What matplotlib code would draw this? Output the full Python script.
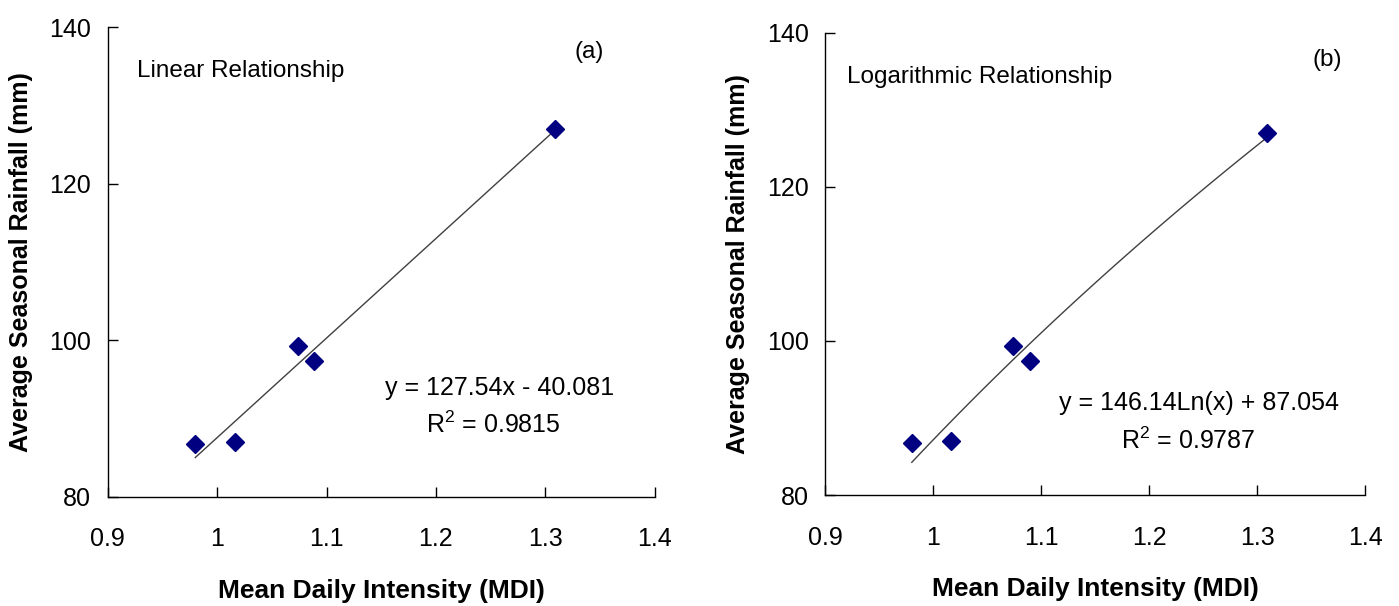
import numpy as np
import matplotlib
matplotlib.use('Agg')
import matplotlib.pyplot as plt

# data
mdi = [0.980, 1.016, 1.074, 1.089, 1.309]
rain = [86.7, 87.0, 99.3, 97.4, 127.0]

xticks = [0.9, 1.0, 1.1, 1.2, 1.3, 1.4]
xticklabels = ['0.9', '1', '1.1', '1.2', '1.3', '1.4']
yticks = [80, 100, 120, 140]

lin_eq = 'y = 127.54x - 40.081'
lin_r2 = 'R$^2$ = 0.9815'
log_eq = 'y = 146.14Ln(x) + 87.054'
log_r2 = 'R$^2$ = 0.9787'

plt.rcParams['font.family'] = ['Liberation Sans', 'DejaVu Sans']
plt.rcParams['mathtext.fontset'] = 'custom'
plt.rcParams['mathtext.rm'] = 'Liberation Sans'

fig = plt.figure(figsize=(13.99, 6.06), dpi=100)
ax1 = fig.add_axes([0.077, 0.180, 0.391, 0.775])
ax2 = fig.add_axes([0.590, 0.183, 0.386, 0.763])

x = np.array(mdi)
y = np.array(rain)
xx = np.linspace(x.min(), x.max(), 100)

# linear trend
b1, b0 = np.polyfit(x, y, 1)
# log trend
c1, c0 = np.polyfit(np.log(x), y, 1)

def style(ax):
    ax.set_xlim(0.9, 1.4)
    ax.set_ylim(80, 140)
    ax.set_xticks(xticks)
    ax.set_xticklabels(xticklabels)
    ax.set_yticks(yticks)
    for s in ['top', 'right']:
        ax.spines[s].set_visible(False)
    for s in ['left', 'bottom']:
        ax.spines[s].set_linewidth(1.0)
    ax.tick_params(axis='both', direction='in', length=7, width=1, labelsize=18)
    ax.tick_params(axis='x', pad=22)
    ax.tick_params(axis='y', pad=12)
    ax.set_xlabel('Mean Daily Intensity (MDI)', fontsize=19, fontweight='bold', labelpad=20)
    ax.set_ylabel('Average Seasonal Rainfall (mm)', fontsize=18, fontweight='bold', labelpad=12)

ax1.plot(xx, b0 + b1 * xx, color='#404040', lw=1.0)
ax1.plot(mdi, rain, linestyle='none', marker='D', markersize=9, color='#000080')
style(ax1)
ax1.text(0.927, 134.4, 'Linear Relationship', fontsize=17.5, va='center')
ax1.text(1.34, 136.8, '(a)', fontsize=17.5, ha='center', va='center')
ax1.text(1.258, 93.9, lin_eq, fontsize=18, ha='center', va='center')
ax1.text(1.252, 89.2, lin_r2, fontsize=18, ha='center', va='center')

ax2.plot(xx, c0 + c1 * np.log(xx), color='#404040', lw=1.0)
ax2.plot(mdi, rain, linestyle='none', marker='D', markersize=9, color='#000080')
style(ax2)
ax2.text(0.920, 134.2, 'Logarithmic Relationship', fontsize=17.5, va='center')
ax2.text(1.365, 136.4, '(b)', fontsize=17.5, ha='center', va='center')
ax2.text(1.246, 92.0, log_eq, fontsize=18, ha='center', va='center')
ax2.text(1.236, 87.1, log_r2, fontsize=18, ha='center', va='center')

fig.savefig('out.png', dpi=100)
